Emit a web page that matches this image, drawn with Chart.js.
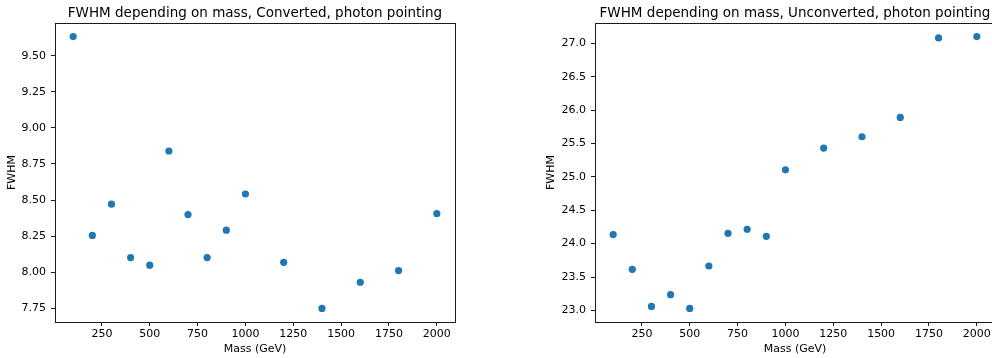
<!DOCTYPE html>
<html>
<head>
<meta charset="utf-8">
<script src="https://cdn.jsdelivr.net/npm/chart.js@4"></script>
<style>
  html, body { margin: 0; padding: 0; background: #fff; overflow: hidden; width: 992px; height: 358px; }
  .panel { position: absolute; top: 0; width: 510px; height: 358px; }
  #leftPanel { left: 0; }
  #rightPanel { left: 540px; }
</style>
</head>
<body>
<div class="panel" id="leftPanel"><canvas id="convChart" width="510" height="358"></canvas></div>
<div class="panel" id="rightPanel"><canvas id="unconvChart" width="510" height="358"></canvas></div>
<script>
// Mass points (GeV), shared by both panels
const masses = [100, 200, 300, 400, 500, 600, 700, 800, 900, 1000, 1200, 1400, 1600, 1800, 2000];

// FWHM for converted photons
const fwhmConverted = [9.632, 8.255, 8.472, 8.102, 8.049, 8.840, 8.400, 8.102, 8.292, 8.542, 8.069, 7.750, 7.931, 8.012, 8.407];

// FWHM for unconverted photons
const fwhmUnconverted = [24.135, 23.615, 23.060, 23.236, 23.030, 23.665, 24.155, 24.215, 24.110, 25.105, 25.430, 25.600, 25.890, 27.080, 27.100];

// Tick values
const xTicks = [250, 500, 750, 1000, 1250, 1500, 1750, 2000];
const yTicksConverted = [7.75, 8.00, 8.25, 8.50, 8.75, 9.00, 9.25, 9.50];
const yTicksUnconverted = [23.0, 23.5, 24.0, 24.5, 25.0, 25.5, 26.0, 26.5, 27.0];

const titles = [
  'FWHM depending on mass, Converted, photon pointing',
  'FWHM depending on mass, Unconverted, photon pointing'
];

const FONT = 'DejaVu Sans';
const DOT = '#1f77b4';
const INK = '#1a1a1a';

// 5% padding around the data range on each axis
function paddedRange(values) {
  const lo = Math.min(...values), hi = Math.max(...values);
  const m = (hi - lo) * 0.05;
  return [lo - m, hi + m];
}

// Draws the four-sided frame and the title centred over the plot area
const framePlugin = {
  id: 'frameAndTitle',
  afterDraw(chart, args, opts) {
    const { ctx, chartArea: a } = chart;
    ctx.save();
    ctx.strokeStyle = INK;
    ctx.lineWidth = 1;
    ctx.strokeRect(Math.round(a.left) + 0.5, Math.round(a.top) + 0.5,
                   Math.round(a.right - a.left), Math.round(a.bottom - a.top));
    ctx.fillStyle = '#000';
    ctx.font = '13.5px "' + FONT + '"';
    ctx.textAlign = 'center';
    ctx.textBaseline = 'alphabetic';
    ctx.fillText(opts.text, (a.left + a.right) / 2, a.top - 6);
    ctx.restore();
  }
};

function makeChart(canvasId, values, yTicks, title, yTitlePad, decimals) {
  const [xmin, xmax] = paddedRange(masses);
  const [ymin, ymax] = paddedRange(values);
  const tickFont = { family: FONT, size: 11 };
  const gridOpts = { drawOnChartArea: false, drawTicks: true, tickLength: 4, color: INK, lineWidth: 1 };
  return new Chart(document.getElementById(canvasId), {
    type: 'scatter',
    data: {
      datasets: [{
        data: masses.map((m, i) => ({ x: m, y: values[i] })),
        backgroundColor: DOT,
        borderWidth: 0,
        pointRadius: 3.6,
        pointHoverRadius: 3.6
      }]
    },
    options: {
      responsive: false,
      animation: false,
      events: [],
      layout: { padding: { top: 23, right: 55, left: 0, bottom: 0 } },
      plugins: {
        legend: { display: false },
        tooltip: { enabled: false },
        title: { display: false },
        frameAndTitle: { text: title }
      },
      scales: {
        x: {
          type: 'linear',
          min: xmin,
          max: xmax,
          afterBuildTicks: s => { s.ticks = xTicks.map(v => ({ value: v })); },
          afterFit: s => { s.height = 36; },
          ticks: { color: '#000', font: tickFont, padding: 2, maxRotation: 0, autoSkip: false,
                   callback: v => String(v) },
          grid: gridOpts,
          border: { display: true, color: INK, width: 1 },
          title: { display: true, text: 'Mass (GeV)', color: '#000', font: { family: FONT, size: 11 },
                   padding: { top: 0, bottom: 2 } }
        },
        y: {
          type: 'linear',
          min: ymin,
          max: ymax,
          afterBuildTicks: s => { s.ticks = yTicks.map(v => ({ value: v })); },
          afterFit: s => { s.width = 55; },
          ticks: { color: '#000', font: tickFont, padding: 5, autoSkip: false,
                   callback: v => v.toFixed(decimals) },
          grid: gridOpts,
          border: { display: true, color: INK, width: 1 },
          title: { display: true, text: 'FWHM', color: '#000', font: { family: FONT, size: 11 },
                   padding: { top: yTitlePad, bottom: 0 } }
        }
      }
    },
    plugins: [framePlugin]
  });
}

makeChart('convChart', fwhmConverted, yTicksConverted, titles[0], 5.4, 2);
makeChart('unconvChart', fwhmUnconverted, yTicksUnconverted, titles[1], 4.4, 1);
</script>
</body>
</html>
